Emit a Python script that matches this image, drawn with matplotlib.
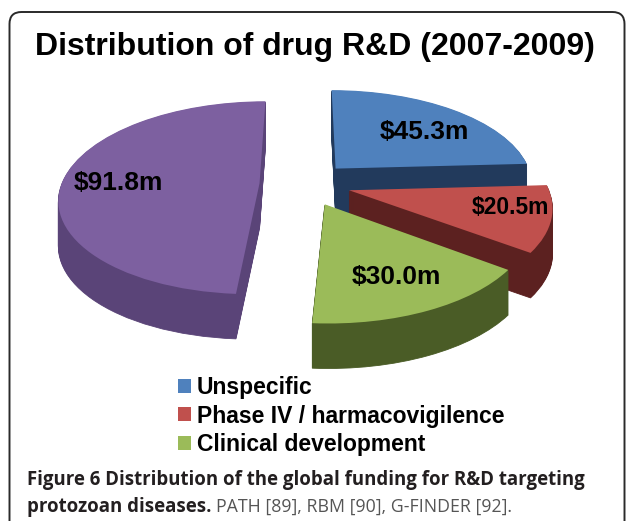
import numpy as np
import matplotlib
matplotlib.use("Agg")
import matplotlib.pyplot as plt
from matplotlib.transforms import Transform, Affine2D
from matplotlib.patches import Wedge, FancyBboxPatch

# ---- data ----
categories = ["Unspecific", "Phase IV / harmacovigilence", "Clinical development", "Other"]
values = [45.3, 20.5, 30.0, 91.8]
value_labels = ["$45.3m", "$20.5m", "$30.0m", "$91.8m"]
legend_labels = categories[:3]
title = "Distribution of drug R&D (2007-2009)"

top_colors = ["#4F81BD", "#C0504D", "#9BBB59", "#7D60A0"]
wall_colors = ["#223A5C", "#5C2120", "#4A5C26", "#5A4478"]

W, H = 627, 521
fig = plt.figure(figsize=(W / 100, H / 100), dpi=100)
ax = fig.add_axes([0, 0, 1, 1])

def Y(py):
    return H - py

# perspective projection of unit pie coordinates onto pixel space
CX, CY = 305, Y(184)
RX, RY, P = 198, 94.5, 0.15


class Persp(Transform):
    input_dims = 2
    output_dims = 2

    def transform_non_affine(self, xy):
        xy = np.asarray(xy, dtype=float)
        u, v = xy[:, 0], xy[:, 1]
        w = 1 + P * v
        return np.column_stack([CX + RX * u / w, CY + RY * v / w])

    def inverted(self):
        return Transform.inverted(self)


persp = Persp()

wedges, _ = ax.pie(values, startangle=90, counterclock=False,
                   explode=[0.23] * len(values), colors=top_colors,
                   wedgeprops=dict(linewidth=0))

ax.set_xlim(0, W)
ax.set_ylim(0, H)
ax.set_aspect("auto")
ax.axis("off")

# draw order back to front
order = [0, 3, 1, 2]
depth = 45
for rank, i in enumerate(order):
    wdg = wedges[i]
    base = 2 + rank * 2
    for k in range(depth, 0, -1):
        side = Wedge(wdg.center, wdg.r, wdg.theta1, wdg.theta2,
                     facecolor=wall_colors[i], edgecolor=wall_colors[i], linewidth=0.6,
                     transform=persp + Affine2D().translate(0, -k) + ax.transData,
                     zorder=base)
        ax.add_patch(side)
    wdg.set_transform(persp + ax.transData)
    wdg.set_zorder(base + 1)

# value labels
label_pos = [(424, 132), (510, 208), (396, 277), (118, 183)]
label_sizes = [19, 16.5, 19, 19]
for (px, py), txt, fs in zip(label_pos, value_labels, label_sizes):
    ax.text(px, Y(py), txt, ha="center", va="center", fontsize=fs,
            fontweight="bold", family="Liberation Sans", color="black", zorder=20)

# frame
frame = FancyBboxPatch((9.5, -30), 615, Y(12) + 30, boxstyle="round,pad=0,rounding_size=12",
                       facecolor="none", edgecolor="#2a2a2a", linewidth=1.4, zorder=1)
ax.add_patch(frame)

# title
ax.text(35, Y(55), title, ha="left", va="baseline", fontsize=23, fontweight="bold",
        family="Liberation Sans", color="black")

# legend
leg = ax.legend(wedges[:3], legend_labels, loc="upper left",
                bbox_to_anchor=(178 / W, Y(376) / H), frameon=False,
                prop=dict(family="Liberation Sans", weight="bold", size=16.5),
                handlelength=0.57, handleheight=0.57, handletextpad=0.26,
                labelspacing=0.24, borderpad=0, borderaxespad=0)

# caption
fig.canvas.draw()
r = fig.canvas.get_renderer()
cap_kw = dict(family="Open Sans", va="baseline", ha="left")
ax.text(27, Y(485), "Figure 6 Distribution of the global funding for R&D targeting",
        fontsize=13.4, fontweight="bold", color="#231F20", **cap_kw)
t3 = ax.text(27, Y(512), "protozoan diseases.", fontsize=13.4, fontweight="bold",
             color="#231F20", **cap_kw)
bb3 = t3.get_window_extent(r)
ax.text(bb3.x1 + 5, Y(512), "PATH [89], RBM [90], G-FINDER [92].", fontsize=12.8,
        fontweight="normal", color="#555555", **cap_kw)

fig.savefig("out.png", dpi=100)
